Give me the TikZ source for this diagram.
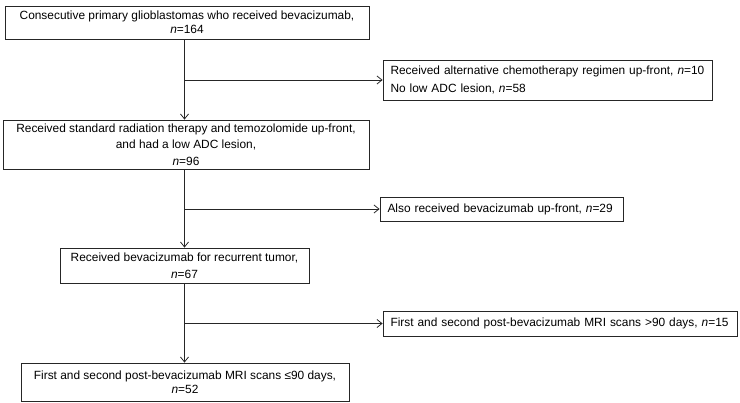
\documentclass[tikz,border=0pt]{standalone}
\usepackage{fontspec}
\setmainfont{Liberation Sans}
\usetikzlibrary{arrows.meta}
\begin{document}
\begin{tikzpicture}[x=1pt,y=-1pt,
  box/.style={draw=black!85, line width=0.8pt, inner sep=0pt, font=\fontsize{11.9pt}{#1}\selectfont, align=center},
  lbox/.style={draw=black!85, line width=0.8pt, inner xsep=7.5pt, inner ysep=0pt, font=\fontsize{11.9pt}{#1}\selectfont, align=left},
  conn/.style={line width=0.8pt, draw=black!85, -{Straight Barb[length=5pt,width=8pt]}},
  plain/.style={line width=0.8pt, draw=black!85}]
\useasboundingbox (0,0) rectangle (740,403);
\node[box=14.5pt, minimum width=364pt, minimum height=33pt] (b1) at (187,22.5)
  {Consecutive primary glioblastomas who received bevacizumab,\\ \textit{n}=164};
\node[lbox=18.5pt, minimum width=329pt, minimum height=40pt, text width=314pt] (b2) at (547.5,80)
  {\mbox{Received alternative chemotherapy regimen up-front, \textit{n}=10}\\ \mbox{No low ADC lesion, \textit{n}=58}};
\node[box=16.3pt, minimum width=366pt, minimum height=49pt] (b3) at (186,144.5)
  {Received standard radiation therapy and temozolomide up-front,\\ and had a low ADC lesion,\\ \textit{n}=96};
\node[lbox=14pt, minimum width=243pt, minimum height=24pt, text width=228pt] (b4) at (501.5,209)
  {\mbox{Also received bevacizumab up-front, \textit{n}=29}};
\node[box=16.5pt, minimum width=249pt, minimum height=35pt] (b5) at (184.5,265.5)
  {Received bevacizumab for recurrent tumor,\\ \textit{n}=67};
\node[lbox=14pt, minimum width=354pt, minimum height=25pt, text width=339pt] (b6) at (560,323.5)
  {\mbox{First and second post-bevacizumab MRI scans >90 days, \textit{n}=15}};
\node[box=13.5pt, minimum width=328pt, minimum height=38pt] (b7) at (185,382)
  {First and second post-bevacizumab MRI scans ≤90 days,\\ \textit{n}=52};
\coordinate (t) at (184.5,0);
\draw[conn] (t |- b1.south) -- (t |- b3.north);
\draw[conn] (t |- b2.west) -- (b2.west);
\draw[conn] (t |- b3.south) -- (t |- b5.north);
\draw[conn] (t |- b4.west) -- (b4.west);
\draw[conn] (t |- b5.south) -- (t |- b7.north);
\draw[conn] (t |- b6.west) -- (b6.west);
\end{tikzpicture}
\end{document}
